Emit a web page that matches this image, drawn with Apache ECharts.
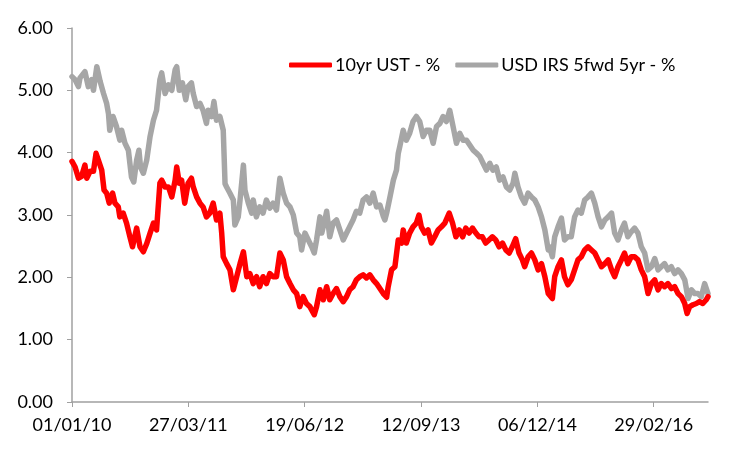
<!DOCTYPE html>
<html>
<head>
<meta charset="utf-8">
<script src="https://cdn.jsdelivr.net/npm/echarts@6/dist/echarts.min.js"></script>
<style>html,body{margin:0;padding:0;background:#fff}#c{width:751px;height:451px}</style>
</head>
<body>
<div id="c"></div>
<script>
// day offsets from 01/01/10
var irsDays = [0,12,25,31,50,63,76,83,96,109,122,134,141,146,159,172,185,192,205,218,230,239,250,259,265,276,289,302,315,327,340,347,360,373,386,399,405,415,427,440,449,462,469,482,495,507,520,527,540,549,559,572,585,592,598,611,624,630,643,650,663,669,682,695,701,713,726,739,752,765,778,791,804,817,830,843,856,869,881,888,901,914,927,937,946,959,966,978,985,997,1010,1023,1036,1049,1062,1074,1087,1100,1113,1126,1139,1152,1165,1178,1191,1204,1210,1217,1230,1243,1255,1262,1268,1281,1293,1306,1319,1332,1345,1358,1371,1384,1397,1410,1423,1435,1448,1461,1474,1487,1500,1513,1526,1539,1552,1565,1577,1590,1603,1616,1628,1641,1654,1667,1680,1693,1706,1713,1725,1738,1751,1764,1777,1790,1803,1816,1829,1842,1847,1858,1867,1880,1893,1905,1918,1931,1944,1957,1970,1983,1996,2009,2022,2035,2048,2061,2074,2087,2099,2112,2125,2137,2150,2163,2176,2189,2202,2215,2228,2241,2254,2267,2279,2292,2305,2318,2331,2344,2357,2370,2383,2396,2409,2421,2434,2447,2460];
var irsValues = [5.22,5.17,5.06,5.20,5.30,5.06,5.17,5.00,5.38,5.14,4.95,4.79,4.63,4.36,4.58,4.42,4.20,4.36,4.15,4.04,3.61,3.53,3.88,4.04,3.77,3.67,3.88,4.26,4.52,4.68,5.17,5.28,4.95,5.09,5.00,5.33,5.38,5.00,5.12,4.85,5.06,5.12,4.95,4.74,4.79,4.68,4.47,4.68,4.58,4.82,4.52,4.58,4.36,3.50,3.45,3.35,3.24,2.84,2.97,3.24,3.80,3.40,3.19,3.03,3.24,2.97,3.13,3.03,3.24,3.11,3.19,3.08,3.59,3.35,3.19,3.13,3.00,2.71,2.65,2.44,2.71,2.60,2.49,2.39,2.60,2.97,2.71,2.92,3.06,2.65,2.87,2.92,2.76,2.60,2.71,2.81,2.92,3.06,3.03,3.24,3.29,3.19,3.35,3.13,3.16,2.98,2.92,3.03,3.29,3.56,3.72,3.99,4.10,4.36,4.20,4.31,4.50,4.58,4.50,4.26,4.36,4.36,4.15,4.42,4.47,4.58,4.50,4.68,4.42,4.15,4.31,4.20,4.20,4.12,4.04,3.99,3.94,3.83,3.72,3.83,3.72,3.77,3.56,3.61,3.45,3.40,3.51,3.67,3.45,3.29,3.19,3.35,3.29,3.24,3.13,2.97,2.76,2.44,2.49,2.33,2.65,2.81,2.95,2.60,2.65,2.65,2.97,3.08,3.03,3.24,3.29,3.35,3.19,2.97,2.81,2.92,2.97,3.03,2.71,2.60,2.76,2.87,2.65,2.73,2.79,2.71,2.49,2.39,2.12,2.17,2.30,2.12,2.17,2.22,2.12,2.17,2.06,2.12,2.06,1.96,1.66,1.80,1.74,1.74,1.69,1.90,1.74];
var ustDays = [0,12,25,37,50,57,70,83,93,102,115,124,134,144,157,166,179,185,198,211,224,234,250,263,276,289,302,315,327,340,347,360,373,386,399,405,415,424,436,449,462,469,482,495,507,520,533,546,559,572,579,585,598,611,624,637,650,663,676,688,701,714,726,739,752,765,778,791,804,817,830,843,856,869,881,894,907,920,937,946,959,972,985,997,1010,1023,1036,1049,1062,1074,1087,1100,1113,1126,1139,1152,1165,1178,1191,1204,1217,1223,1236,1249,1262,1275,1281,1293,1306,1319,1332,1342,1351,1364,1377,1390,1403,1416,1429,1442,1459,1472,1485,1498,1511,1523,1536,1549,1562,1574,1587,1600,1613,1626,1639,1652,1665,1678,1691,1703,1716,1729,1742,1751,1764,1777,1790,1803,1816,1829,1842,1858,1867,1880,1893,1905,1918,1931,1944,1957,1970,1983,1996,2009,2022,2035,2048,2061,2074,2087,2099,2112,2125,2137,2150,2163,2176,2189,2202,2215,2228,2241,2254,2267,2279,2292,2305,2318,2331,2344,2357,2370,2379,2389,2402,2415,2427,2440,2453,2460];
var ustValues = [3.86,3.77,3.59,3.62,3.80,3.59,3.70,3.70,3.99,3.88,3.72,3.40,3.35,3.19,3.35,3.19,3.13,2.97,3.03,2.87,2.65,2.49,2.79,2.49,2.41,2.54,2.71,2.87,2.76,3.51,3.56,3.45,3.45,3.29,3.56,3.77,3.51,3.56,3.19,3.51,3.59,3.45,3.29,3.19,3.13,2.97,3.03,3.19,2.92,3.03,2.71,2.33,2.22,2.12,1.80,2.01,2.22,2.41,2.01,2.06,1.90,2.01,1.85,2.01,1.90,2.06,2.01,2.01,2.39,2.28,2.01,1.90,1.80,1.74,1.53,1.69,1.58,1.53,1.40,1.53,1.80,1.64,1.85,1.64,1.74,1.82,1.69,1.61,1.69,1.80,1.85,1.96,2.01,2.04,1.99,2.04,1.96,1.90,1.82,1.74,1.68,1.85,2.12,2.17,2.60,2.55,2.76,2.55,2.71,2.81,2.87,3.00,2.81,2.71,2.76,2.55,2.65,2.76,2.81,2.87,3.03,2.87,2.65,2.76,2.65,2.79,2.71,2.79,2.71,2.65,2.65,2.55,2.60,2.65,2.60,2.49,2.55,2.44,2.39,2.49,2.62,2.39,2.28,2.17,2.33,2.39,2.28,2.12,2.22,2.01,1.74,1.66,2.01,2.17,2.28,2.01,1.88,1.96,2.12,2.28,2.33,2.44,2.49,2.44,2.39,2.28,2.17,2.22,2.28,2.12,2.01,2.17,2.28,2.39,2.22,2.33,2.33,2.28,2.12,2.01,1.74,1.90,1.96,1.80,1.90,1.85,1.90,1.82,1.85,1.74,1.69,1.58,1.42,1.53,1.56,1.58,1.61,1.58,1.64,1.69];
var seriesNames = ['10yr UST - %', 'USD IRS 5fwd 5yr - %'];
var yTicks = [0, 1, 2, 3, 4, 5, 6];

function pairs(d, v) { return d.map(function (x, i) { return [x, v[i]]; }); }
function fmtDate(day) {
  var t = new Date(Date.UTC(2010, 0, 1) + day * 86400000);
  var dd = ('0' + t.getUTCDate()).slice(-2), mm = ('0' + (t.getUTCMonth() + 1)).slice(-2), yy = ('' + t.getUTCFullYear()).slice(-2);
  return dd + '/' + mm + '/' + yy;
}
var font = 'Lato, "Open Sans", sans-serif';
var chart = echarts.init(document.getElementById('c'), null, { renderer: 'canvas' });
chart.setOption({
  animation: false,
  backgroundColor: '#fff',
  grid: { left: 72, right: 43, top: 28, bottom: 49, containLabel: false },
  legend: {
    left: 289, top: 56, padding: 0, itemWidth: 43, itemHeight: 5, itemGap: 15,
    icon: 'roundRect',
    textStyle: { fontFamily: font, fontSize: 18, color: '#000', padding: [0, 0, 0, -2] },
    data: seriesNames
  },
  xAxis: {
    type: 'value', min: 0, max: 2460, interval: 450,
    axisLine: { show: true, lineStyle: { color: '#a0a0a0', width: 1.5 } },
    axisTick: { show: true, length: 5, lineStyle: { color: '#a0a0a0' } },
    splitLine: { show: false },
    axisLabel: { margin: 14, fontFamily: font, fontSize: 18, color: '#000', showMaxLabel: false, formatter: fmtDate }
  },
  yAxis: {
    type: 'value', min: yTicks[0], max: yTicks[yTicks.length - 1], interval: 1,
    axisLine: { show: true, lineStyle: { color: '#a0a0a0', width: 1.5 } },
    axisTick: { show: true, length: 5, lineStyle: { color: '#a0a0a0' } },
    splitLine: { show: false },
    axisLabel: { margin: 19, fontFamily: font, fontSize: 18, color: '#000', formatter: function (v) { return v.toFixed(2); } }
  },
  series: [
    { name: seriesNames[0], type: 'line', z: 3, showSymbol: false, data: pairs(ustDays, ustValues),
      itemStyle: { color: '#ff0000' }, lineStyle: { color: '#ff0000', width: 5.5, join: 'round', cap: 'round' } },
    { name: seriesNames[1], type: 'line', z: 2, showSymbol: false, data: pairs(irsDays, irsValues),
      itemStyle: { color: '#a6a6a6' }, lineStyle: { color: '#a6a6a6', width: 5.5, join: 'round', cap: 'round' } }
  ]
});
</script>
</body>
</html>
